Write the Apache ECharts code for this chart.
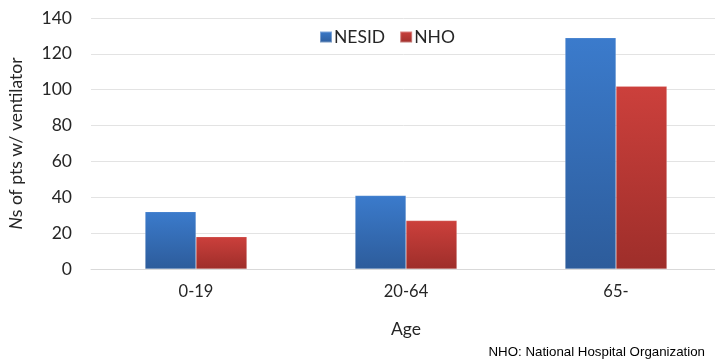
<!DOCTYPE html>
<html>
<head>
<meta charset="utf-8">
<script src="https://cdn.jsdelivr.net/npm/echarts@6/dist/echarts.min.js"></script>
<style>
  html, body { margin: 0; padding: 0; background: #ffffff; }
  #chart { width: 715px; height: 361px; }
</style>
</head>
<body>
<div id="chart"></div>
<script>
// Age groups and ventilated patient counts
const ageGroups = ['0-19', '20-64', '65-'];
const nesidCounts = [32, 41, 129];
const nhoCounts = [18, 27, 102];
const yTicks = { min: 0, max: 140, interval: 20 };

const FONT = 'Lato, "Open Sans", sans-serif';
const TEXT = '#262626';

function barGradient(top, bottom) {
  return new echarts.graphic.LinearGradient(0, 0, 0, 1, [
    { offset: 0, color: top },
    { offset: 1, color: bottom }
  ]);
}

const chart = echarts.init(document.getElementById('chart'), null, { renderer: 'canvas' });

chart.setOption({
  animation: false,
  backgroundColor: '#ffffff',
  grid: {
    left: 91, top: 18, width: 630, height: 251,
    containLabel: false,
    outerBoundsMode: 'none'
  },
  legend: {
    top: 23,
    left: 314,
    itemWidth: 12,
    itemHeight: 11,
    itemGap: 14,
    icon: 'rect',
    textStyle: { fontFamily: FONT, fontSize: 17.5, color: TEXT, padding: [0, 0, 0, -3] },
    data: ['NESID', 'NHO']
  },
  xAxis: {
    type: 'category',
    data: ageGroups,
    name: 'Age',
    nameLocation: 'middle',
    nameGap: 51,
    nameTextStyle: { fontFamily: FONT, fontSize: 17.5, color: TEXT },
    axisLine: { show: true, lineStyle: { color: '#d9d9d9', width: 1 } },
    axisTick: { show: false },
    axisLabel: { fontFamily: FONT, fontSize: 16.5, color: TEXT, margin: 14 }
  },
  yAxis: {
    type: 'value',
    min: yTicks.min,
    max: yTicks.max,
    interval: yTicks.interval,
    name: '{i|N}s of pts w/ ventilator',
    nameLocation: 'middle',
    nameRotate: 90,
    nameGap: 66,
    nameTextStyle: {
      fontFamily: FONT, fontSize: 17.5, color: TEXT,
      rich: { i: { fontFamily: FONT, fontSize: 17.5, color: TEXT, fontStyle: 'italic' } }
    },
    axisLine: { show: false },
    axisTick: { show: false },
    axisLabel: { fontFamily: FONT, fontSize: 17.5, color: TEXT, margin: 19 },
    splitLine: { lineStyle: { color: '#e3e3e3', width: 1 } }
  },
  series: [
    {
      name: 'NESID',
      type: 'bar',
      data: nesidCounts,
      barGap: '0%',
      barCategoryGap: '51.5%',
      itemStyle: {
        color: barGradient('#3b7bcc', '#2d5c9b'),
        borderColor: 'rgba(255,255,255,0.35)',
        borderWidth: 0.5
      }
    },
    {
      name: 'NHO',
      type: 'bar',
      data: nhoCounts,
      itemStyle: {
        color: barGradient('#cc403c', '#9e2e2a'),
        borderColor: 'rgba(255,255,255,0.35)',
        borderWidth: 0.5
      }
    }
  ],
  graphic: [
    {
      type: 'text',
      right: 10,
      top: 346,
      style: {
        text: 'NHO: National Hospital Organization',
        font: '13.3px "Liberation Sans", Arial, sans-serif',
        fill: '#000000'
      }
    }
  ]
});
</script>
</body>
</html>
